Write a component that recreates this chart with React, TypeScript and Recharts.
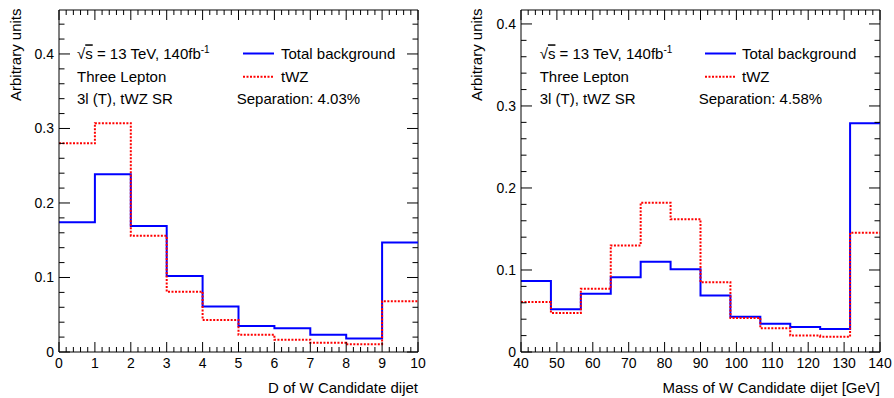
import React from 'react';
import { LineChart, Line, XAxis, YAxis, Customized, ReferenceDot, ReferenceLine } from 'recharts';

const FONT = '"Liberation Sans", Arial, Helvetica, sans-serif';

// ---------- Left panel: D of W candidate dijet ----------
const dEdges = [0, 1, 2, 3, 4, 5, 6, 7, 8, 9, 10];
const dBackground = [0.174, 0.2385, 0.169, 0.102, 0.061, 0.035, 0.032, 0.023, 0.018, 0.147];
const dTwz = [0.28, 0.307, 0.156, 0.081, 0.043, 0.023, 0.0165, 0.0125, 0.0103, 0.068];
const dXMajor = [0, 1, 2, 3, 4, 5, 6, 7, 8, 9, 10];
const dXLabels = ['0', '1', '2', '3', '4', '5', '6', '7', '8', '9', '10'];
const dYMajor = [0, 0.1, 0.2, 0.3, 0.4];
const dYLabels = ['0', '0.1', '0.2', '0.3', '0.4'];
const dSeparation = 'Separation: 4.03%';

// ---------- Right panel: Mass of W candidate dijet ----------
const mEdges = [40, 48.333, 56.667, 65, 73.333, 81.667, 90, 98.333, 106.667, 115, 123.333, 131.667, 140];
const mBackground = [0.0866, 0.052, 0.071, 0.091, 0.11, 0.101, 0.069, 0.043, 0.0345, 0.0305, 0.028, 0.279];
const mTwz = [0.061, 0.0476, 0.077, 0.13, 0.182, 0.162, 0.085, 0.0415, 0.029, 0.02, 0.0187, 0.1455];
const mXMajor = [40, 50, 60, 70, 80, 90, 100, 110, 120, 130, 140];
const mXLabels = ['40', '50', '60', '70', '80', '90', '100', '110', '120', '130', '140'];
const mYMajor = [0, 0.1, 0.2, 0.3, 0.4];
const mYLabels = ['0', '0.1', '0.2', '0.3', '0.4'];
const mSeparation = 'Separation: 4.58%';

const seriesNames = ['Total background', 'tWZ'];
const infoLines = ['Three Lepton', '3l (T), tWZ SR'];

function buildRows(edges: number[], bkg: number[], sig: number[]) {
  return edges.map((e, i) => {
    const k = Math.min(i, bkg.length - 1);
    return { x: e, bkg: bkg[k], twz: sig[k] };
  });
}

function tickRange(start: number, end: number, step: number) {
  const out: number[] = [];
  const n = Math.round((end - start) / step);
  for (let i = 0; i <= n; i++) out.push(Math.round((start + i * step) * 1e6) / 1e6);
  return out;
}

function majorIndex(v: number, majors: number[]) {
  return majors.findIndex((m) => Math.abs(m - v) < 1e-6);
}

const labelTick = (side: string, majors: number[], labels: string[]) => (p: any) => {
  const { x, y, payload } = p;
  const idx = majorIndex(payload.value, majors);
  if (idx < 0) return <g />;
  if (side === 'bottom')
    return (
      <text x={x} y={y + 15.5} textAnchor="middle" fontSize={14} fontFamily={FONT} fill="#000">
        {labels[idx]}
      </text>
    );
  return (
    <text x={x - 5} y={y + 5} textAnchor="end" fontSize={14} fontFamily={FONT} fill="#000">
      {labels[idx]}
    </text>
  );
};

const tickShape = (dx: number, dy: number) => (p: any) => (
  <line x1={p.cx} y1={p.cy} x2={p.cx + dx} y2={p.cy + dy} stroke="#000" strokeWidth={1} />
);

type PanelProps = {
  rows: any[];
  xDomain: [number, number];
  yDomain: [number, number];
  xTicks: number[];
  yTicks: number[];
  xMajor: number[];
  xLabels: string[];
  yMajor: number[];
  yLabels: string[];
  margin: { top: number; right: number; bottom: number; left: number };
  xTitle: string;
  sep: string;
  pos: { info: number; legLine: number; legText: number; sep: number; yTitle: number; xTitleRight: number };
};

function Annotations({ pos, sep, xTitle }: { pos: PanelProps['pos']; sep: string; xTitle: string }) {
  const t = { fontSize: 15, fontFamily: FONT, fill: '#000' } as any;
  return (
    <g>
      <text x={pos.info} y={59.3} {...t}>
        <tspan>√</tspan>
        <tspan textDecoration="overline">s</tspan>
        <tspan> = 13 TeV, 140fb</tspan>
        <tspan dy={-6} fontSize={10}>-1</tspan>
      </text>
      <text x={pos.info} y={82.3} {...t}>{infoLines[0]}</text>
      <text x={pos.info} y={103.8} {...t}>{infoLines[1]}</text>
      <line x1={pos.legLine} x2={pos.legLine + 31} y1={53.5} y2={53.5} stroke="#0000ff" strokeWidth={2} />
      <text x={pos.legText} y={59.3} {...t}>{seriesNames[0]}</text>
      <line x1={pos.legLine} x2={pos.legLine + 31} y1={76.7} y2={76.7} stroke="#ff0000" strokeWidth={2} strokeDasharray="2 1.5" />
      <text x={pos.legText} y={81.8} {...t}>{seriesNames[1]}</text>
      <text x={pos.sep} y={103.8} {...t}>{sep}</text>
      <text transform={`translate(${pos.yTitle},8.5) rotate(-90)`} textAnchor="end" {...t}>
        Arbitrary units
      </text>
      <text x={pos.xTitleRight} y={392.7} textAnchor="end" {...t}>{xTitle}</text>
    </g>
  );
}

function Panel(props: PanelProps) {
  const { rows, xDomain, yDomain, xTicks, yTicks, xMajor, xLabels, yMajor, yLabels, margin, xTitle, sep, pos } = props;
  const xTickMarks = xTicks.flatMap((v) => {
    const len = majorIndex(v, xMajor) >= 0 ? 10 : 5;
    return [
      <ReferenceDot key={`xb${v}`} x={v} y={yDomain[0]} r={0} ifOverflow="visible" shape={tickShape(0, -len)} />,
      <ReferenceDot key={`xt${v}`} x={v} y={yDomain[1]} r={0} ifOverflow="visible" shape={tickShape(0, len)} />,
    ];
  });
  const yTickMarks = yTicks.flatMap((v) => {
    const len = majorIndex(v, yMajor) >= 0 ? 11 : 5.5;
    return [
      <ReferenceDot key={`yl${v}`} x={xDomain[0]} y={v} r={0} ifOverflow="visible" shape={tickShape(len, 0)} />,
      <ReferenceDot key={`yr${v}`} x={xDomain[1]} y={v} r={0} ifOverflow="visible" shape={tickShape(-len, 0)} />,
    ];
  });
  return (
    <LineChart width={447} height={398} data={rows} margin={margin}>
      <XAxis
        dataKey="x"
        type="number"
        domain={xDomain}
        allowDataOverflow
        ticks={xTicks}
        interval={0}
        tickSize={0}
        tickMargin={0}
        tickLine={false}
        height={30}
        axisLine={{ stroke: '#000', strokeWidth: 1 }}
        tick={labelTick('bottom', xMajor, xLabels)}
      />
      <YAxis
        type="number"
        domain={yDomain}
        allowDataOverflow
        ticks={yTicks}
        interval={0}
        tickSize={0}
        tickMargin={0}
        tickLine={false}
        width={40}
        axisLine={{ stroke: '#000', strokeWidth: 1 }}
        tick={labelTick('left', yMajor, yLabels)}
      />
      <ReferenceLine y={yDomain[1]} stroke="#000" strokeWidth={1} ifOverflow="visible" />
      <ReferenceLine x={xDomain[1]} stroke="#000" strokeWidth={1} ifOverflow="visible" />
      {xTickMarks}
      {yTickMarks}
      <Line
        type="stepAfter"
        dataKey="bkg"
        name={seriesNames[0]}
        stroke="#0000ff"
        strokeWidth={2}
        dot={false}
        activeDot={false}
        isAnimationActive={false}
      />
      <Line
        type="stepAfter"
        dataKey="twz"
        name={seriesNames[1]}
        stroke="#ff0000"
        strokeWidth={2}
        strokeDasharray="2 1.5"
        dot={false}
        activeDot={false}
        isAnimationActive={false}
      />
      <Customized component={() => <Annotations pos={pos} sep={sep} xTitle={xTitle} />} />
    </LineChart>
  );
}

export default function App() {
  const leftRows = buildRows(dEdges, dBackground, dTwz);
  const rightRows = buildRows(mEdges, mBackground, mTwz);
  return (
    <div style={{ position: 'absolute', left: 0, top: 0, width: 894, height: 398, display: 'flex', background: '#fff' }}>
      <Panel
        rows={leftRows}
        xDomain={[0, 10]}
        yDomain={[0, 0.459]}
        xTicks={tickRange(0, 10, 0.2)}
        yTicks={tickRange(0, 0.44, 0.02)}
        xMajor={dXMajor}
        xLabels={dXLabels}
        yMajor={dYMajor}
        yLabels={dYLabels}
        margin={{ top: 10, right: 29, bottom: 16, left: 19 }}
        xTitle="D of W Candidate dijet"
        sep={dSeparation}
        pos={{ info: 77, legLine: 243, legText: 281, sep: 236.7, yTitle: 21, xTitleRight: 418 }}
      />
      <Panel
        rows={rightRows}
        xDomain={[40, 140]}
        yDomain={[0, 0.417]}
        xTicks={tickRange(40, 140, 2)}
        yTicks={tickRange(0, 0.4, 0.02)}
        xMajor={mXMajor}
        xLabels={mXLabels}
        yMajor={mYMajor}
        yLabels={mYLabels}
        margin={{ top: 10, right: 14, bottom: 16, left: 34 }}
        xTitle="Mass of W Candidate dijet [GeV]"
        sep={mSeparation}
        pos={{ info: 92.7, legLine: 258, legText: 295, sep: 251.7, yTitle: 35, xTitleRight: 433 }}
      />
    </div>
  );
}
